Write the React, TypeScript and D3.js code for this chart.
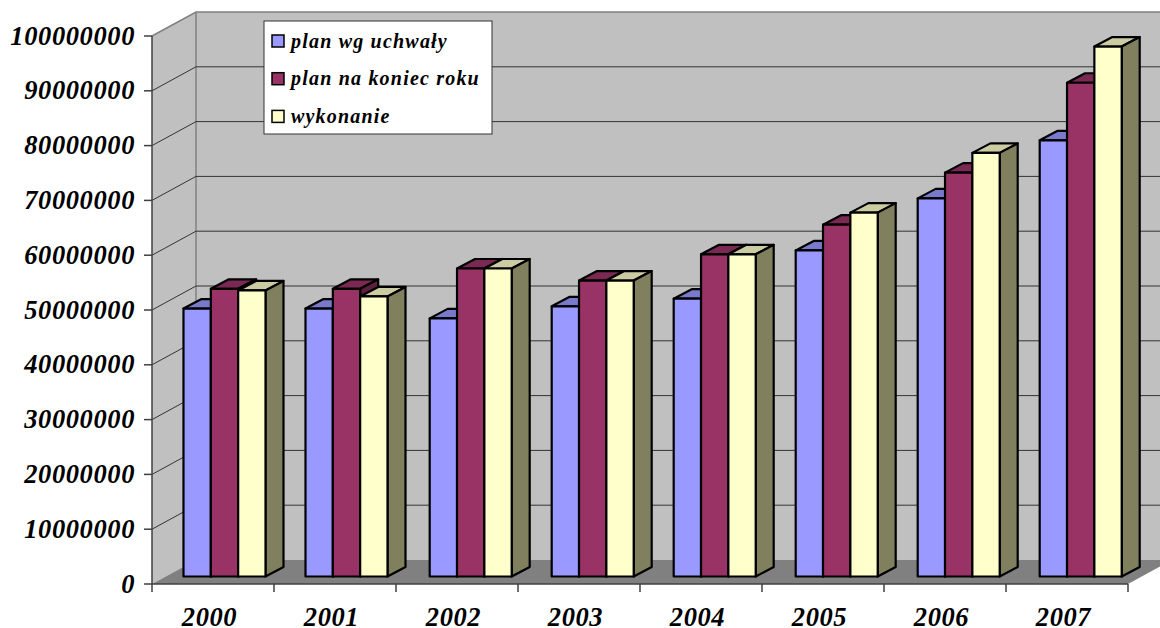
import React from "react";
import * as d3 from "d3";

const categories = ["2000", "2001", "2002", "2003", "2004", "2005", "2006", "2007"];
const seriesNames = ["plan wg uchwały", "plan na koniec roku", "wykonanie"];
const planUchwaly = [48900000, 48900000, 47100000, 49300000, 50700000, 59500000, 69000000, 79600000];
const planKoniec = [52500000, 52500000, 56200000, 54000000, 58800000, 64200000, 73700000, 90100000];
const wykonanie = [52200000, 51100000, 56200000, 54000000, 58800000, 66400000, 77300000, 96700000];
const seriesValues = [planUchwaly, planKoniec, wykonanie];
const yTicks = [0, 10000000, 20000000, 30000000, 40000000, 50000000, 60000000, 70000000, 80000000, 90000000, 100000000];
const frontColors = ["#9999ff", "#993366", "#ffffcc"];
const topColors = ["#7a7acc", "#7a2952", "#cccca3"];
const sideColors = ["#7a7acc", "#5c1f3d", "#80805f"];

const W = 1160, H = 628;
const left = 152, right = 1128, y0 = 584, y100 = 36;
const wallDx = 44, wallDy = -24;
const barDy = -7.5;
const depthDx = 18, depthDy = -9.5;

const y = d3.scaleLinear().domain([0, 100000000]).range([y0, y100]);
const x = d3.scaleBand().domain(categories).range([left, right]);
const inner = d3.scaleBand().domain(["0", "1", "2"]).range([0, 82]);
const font = "'Liberation Serif', serif";
const pts = (p: number[][]) => p.map((a) => a.join(",")).join(" ");

export default function App() {
  return (
    <svg width={W} height={H} viewBox={`0 0 ${W} ${H}`} style={{ position: "fixed", left: 0, top: 0, background: "#fff" }}>
      <polygon points={pts([[left + wallDx, y100 + wallDy], [W + 20, y100 + wallDy], [W + 20, y0 + wallDy], [left + wallDx, y0 + wallDy]])} fill="#c0c0c0" />
      <polygon points={pts([[left, y100], [left + wallDx, y100 + wallDy], [left + wallDx, y0 + wallDy], [left, y0]])} fill="#c0c0c0" />
      <polygon points={pts([[left, y0], [right, y0], [right + wallDx, y0 + wallDy], [left + wallDx, y0 + wallDy]])} fill="#808080" />
      <path d={`M${left},${y100}L${left + wallDx},${y100 + wallDy}L${W},${y100 + wallDy}`} fill="none" stroke="#808080" strokeWidth={1.5} />
      <line x1={left + wallDx} x2={left + wallDx} y1={y100 + wallDy} y2={y0 + wallDy} stroke="#808080" strokeWidth={1.5} />
      {yTicks.slice(1, -1).map((t) => (
        <path key={t} d={`M${left},${y(t)}L${left + wallDx},${y(t) + wallDy}L${W},${y(t) + wallDy}`} fill="none" stroke="#333" strokeWidth={1} />
      ))}
      {categories.map((c, i) =>
        seriesValues.map((vals, s) => {
          const bx = (x(c) as number) + (i < 2 ? 31.5 : 33.7) + (inner(String(s)) as number);
          const bw = inner.bandwidth();
          const bBase = y(0) + barDy;
          const bTop = bBase - (y(0) - y(vals[i]));
          return (
            <g key={c + s} stroke="#000" strokeWidth={2.2} strokeLinejoin="round">
              <polygon points={pts([[bx, bTop], [bx + depthDx, bTop + depthDy], [bx + bw + depthDx, bTop + depthDy], [bx + bw, bTop]])} fill={topColors[s]} />
              <polygon points={pts([[bx + bw, bTop], [bx + bw + depthDx, bTop + depthDy], [bx + bw + depthDx, bBase + depthDy], [bx + bw, bBase]])} fill={sideColors[s]} />
              <rect x={bx} y={bTop} width={bw} height={bBase - bTop} fill={frontColors[s]} />
            </g>
          );
        })
      )}
      <line x1={left} x2={left} y1={y100} y2={y0} stroke="#404040" strokeWidth={1.5} />
      <line x1={left} x2={right} y1={y0} y2={y0} stroke="#404040" strokeWidth={1.5} />
      {yTicks.map((t) => (
        <g key={t}>
          <line x1={left - 8} x2={left} y1={y(t)} y2={y(t)} stroke="#404040" strokeWidth={1.5} />
          <text x={135} y={y(t) + 8.5} textAnchor="end" fontFamily={font} fontWeight="bold" fontStyle="italic" fontSize={26.5} letterSpacing={0.6} fill="#000">{t}</text>
        </g>
      ))}
      {d3.range(categories.length + 1).map((i) => (
        <line key={i} x1={left + i * x.step()} x2={left + i * x.step()} y1={y0} y2={y0 + 8} stroke="#404040" strokeWidth={1.5} />
      ))}
      {categories.map((c) => (
        <text key={c} x={(x(c) as number) + x.bandwidth() / 2 - 3.5} y={626} textAnchor="middle" fontFamily={font} fontWeight="bold" fontStyle="italic" fontSize={26.5} letterSpacing={0.6} fill="#000">{c}</text>
      ))}
      <rect x={264} y={21} width={228} height={113} fill="#fff" stroke="#333" strokeWidth={1} />
      {seriesNames.map((n, s) => {
        const ly = 41 + s * 37.7;
        return (
          <g key={n}>
            <rect x={272} y={ly - 6} width={12} height={12} fill={frontColors[s]} stroke="#000" strokeWidth={1.5} />
            <text x={291} y={ly + 6.5} fontFamily={font} fontWeight="bold" fontStyle="italic" fontSize={20} letterSpacing={1.2} fill="#000">{n}</text>
          </g>
        );
      })}
    </svg>
  );
}
